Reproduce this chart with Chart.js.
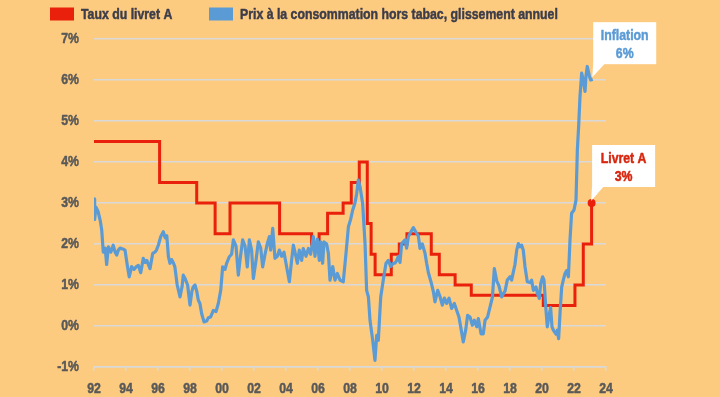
<!DOCTYPE html>
<html>
<head>
<meta charset="utf-8">
<script src="https://cdn.jsdelivr.net/npm/chart.js@4/dist/chart.umd.min.js"></script>
<style>
  html, body { margin: 0; padding: 0; background: #fdcb7f; }
  #wrap { width: 720px; height: 397px; position: relative; }
  canvas { display: block; }
</style>
</head>
<body>
<div id="wrap"><canvas id="c" width="720" height="397"></canvas></div>
<script>
// ---- Data ----
const livretLabel = 'Taux du livret A';
const cpiLabel = 'Prix à la consommation hors tabac, glissement annuel';

const livretDates = [1992.0, 1996.1, 1998.42, 1999.57, 2000.5, 2003.6, 2005.6, 2006.07, 2006.6, 2007.57, 2008.08, 2008.58, 2009.08, 2009.32, 2009.57, 2010.58, 2011.08, 2011.56, 2013.08, 2013.58, 2014.57, 2015.58, 2020.08, 2022.06, 2022.58, 2023.1];
const livretRates = [4.5, 3.5, 3.0, 2.25, 3.0, 2.25, 2.0, 2.25, 2.75, 3.0, 3.5, 4.0, 2.5, 1.75, 1.25, 1.75, 2.0, 2.25, 1.75, 1.25, 1.0, 0.75, 0.5, 1.0, 2.0, 3.0];

const cpiDates = [
 1992.00,1992.04,1992.12,1992.25,1992.40,1992.48,1992.58,1992.70,1992.79,1992.90,
 1993.05,1993.20,1993.32,1993.42,1993.52,1993.63,1993.80,1993.94,1994.08,1994.20,
 1994.35,1994.50,1994.65,1994.77,1994.92,1995.08,1995.20,1995.30,1995.50,1995.67,
 1995.80,1995.90,1996.02,1996.17,1996.33,1996.45,1996.55,1996.65,1996.75,1996.85,
 1996.95,1997.05,1997.20,1997.375,1997.50,1997.58,1997.70,1997.85,1998.00,1998.12,
 1998.20,1998.31,1998.42,1998.52,1998.62,1998.73,1998.875,1999.04,1999.15,1999.29,
 1999.46,1999.625,1999.77,1999.92,2000.04,2000.19,2000.29,2000.46,2000.60,2000.71,
 2000.875,2001.02,2001.125,2001.29,2001.44,2001.58,2001.71,2001.85,2001.96,2002.125,
 2002.27,2002.42,2002.54,2002.69,2002.83,2002.96,2003.04,2003.17,2003.31,2003.46,
 2003.58,2003.73,2003.875,2004.04,2004.21,2004.35,2004.46,2004.56,2004.71,2004.83,
 2004.98,2005.08,2005.25,2005.40,2005.54,2005.71,2005.81,2005.96,2006.08,2006.17,
 2006.29,2006.375,2006.54,2006.65,2006.75,2006.92,2007.06,2007.21,2007.375,2007.58,
 2007.75,2007.90,2008.04,2008.17,2008.31,2008.42,2008.52,2008.625,2008.79,2008.94,
 2009.04,2009.15,2009.25,2009.42,2009.56,2009.67,2009.77,2009.92,2010.08,2010.25,
 2010.40,2010.54,2010.71,2010.81,2010.92,2011.02,2011.125,2011.23,2011.44,2011.54,
 2011.65,2011.81,2011.96,2012.10,2012.27,2012.375,2012.52,2012.69,2012.79,2012.90,
 2013.06,2013.21,2013.31,2013.48,2013.625,2013.77,2013.90,2014.04,2014.19,2014.35,
 2014.52,2014.67,2014.81,2014.94,2015.08,2015.23,2015.35,2015.50,2015.65,2015.77,
 2015.92,2016.02,2016.19,2016.33,2016.44,2016.60,2016.75,2016.90,2017.02,2017.17,
 2017.31,2017.48,2017.60,2017.69,2017.83,2018.00,2018.10,2018.21,2018.31,2018.42,
 2018.52,2018.625,2018.73,2018.83,2018.94,2019.08,2019.25,2019.35,2019.46,2019.625,
 2019.71,2019.83,2019.92,2020.04,2020.125,2020.25,2020.33,2020.46,2020.54,2020.625,
 2020.71,2020.875,2020.96,2021.04,2021.125,2021.23,2021.33,2021.44,2021.54,2021.65,
 2021.75,2021.85,2022.00,2022.125,2022.21,2022.29,2022.375,2022.48,2022.58,2022.69,
 2022.75,2022.83,2022.96,2023.04,2023.17];
const cpiValues = [
 3.10,2.60,2.90,2.80,2.55,2.35,1.80,1.90,1.50,1.93,
 1.80,1.97,1.80,1.73,1.85,1.90,1.88,1.85,1.48,1.20,
 1.45,1.38,1.45,1.48,1.30,1.65,1.55,1.60,1.40,1.77,
 1.80,1.85,1.97,2.18,2.30,2.15,2.20,1.69,1.53,1.62,
 1.55,1.45,1.00,0.71,0.95,1.24,1.15,1.00,0.51,0.85,
 0.95,1.00,0.85,0.63,0.55,0.30,0.10,0.12,0.20,0.22,
 0.38,0.35,0.55,0.87,1.44,1.38,1.53,1.69,1.75,2.10,
 1.95,1.24,1.60,2.10,1.95,1.44,2.10,1.85,1.16,1.60,
 2.05,1.90,1.44,1.75,2.01,2.18,1.85,2.38,1.65,1.70,
 1.85,1.70,1.80,1.44,1.08,1.60,1.97,1.80,1.53,1.85,
 1.60,1.89,1.70,1.89,1.75,2.18,1.70,2.12,1.60,2.05,
 1.53,2.05,2.00,1.77,1.12,1.45,1.12,1.28,1.12,1.08,
 1.77,2.42,2.60,2.83,3.00,3.24,3.56,3.40,2.99,2.01,
 0.87,0.71,0.14,-0.35,-0.84,-0.23,-0.35,0.71,1.12,1.53,
 1.60,1.45,1.53,1.53,1.60,1.70,1.55,2.01,2.10,1.90,
 2.18,2.30,2.40,2.30,2.20,1.89,2.00,1.77,1.53,1.30,
 1.08,0.84,0.59,0.87,0.72,0.51,0.68,0.55,0.68,0.43,
 0.55,0.38,0.22,-0.07,-0.39,-0.10,0.26,0.22,0.02,0.14,
 -0.02,0.18,-0.19,-0.19,0.14,0.22,0.46,0.70,1.40,1.10,
 0.98,0.71,0.80,0.85,1.12,1.20,1.12,1.32,1.50,1.85,
 2.01,1.93,1.97,1.85,1.44,1.08,1.06,1.12,0.87,0.95,
 0.80,0.67,1.04,1.20,1.12,0.38,-0.02,0.30,0.45,-0.02,
 -0.10,-0.20,-0.10,-0.31,0.30,0.95,1.12,1.28,1.35,1.20,
 2.10,2.75,2.83,3.07,4.30,4.87,5.60,6.17,6.00,5.72,
 6.10,6.33,6.10,6.00,6.02];

const xTickLabels = ['92','94','96','98','00','02','04','06','08','10','12','14','16','18','20','22','24'];
const yTickLabels = ['-1%','0%','1%','2%','3%','4%','5%','6%','7%'];

const calloutInflation = ['Inflation', '6%'];
const calloutLivret = ['Livret A', '3%'];

// ---- Styles ----
const FONT = "'Liberation Sans', Arial, sans-serif";
const SQUEEZE = 0.82;
const RED = '#e8200c';
const BLUE = '#5b9bd5';
const GRID = '#d9d9d9';
const TICK_COLOR = '#595959';
const LEGEND_COLOR = '#3d3d4a';

const cpiPoints = cpiDates.map((d, i) => ({ x: d, y: cpiValues[i] }));
const livretPoints = livretDates.map((d, i) => ({ x: d, y: livretRates[i] }));

// draw text in a condensed heavy style (horizontal squeeze + light stroke)
function condText(ctx, text, x, y, align, size, color) {
  ctx.save();
  ctx.font = 'bold ' + size + 'px ' + FONT;
  ctx.fillStyle = color;
  ctx.strokeStyle = color;
  ctx.lineWidth = 0.5;
  ctx.lineJoin = 'round';
  ctx.textAlign = align;
  ctx.textBaseline = 'middle';
  ctx.translate(x, y);
  ctx.scale(SQUEEZE, 1);
  ctx.fillText(text, 0, 0);
  ctx.strokeText(text, 0, 0);
  ctx.restore();
}

const overlay = {
  id: 'overlay',
  afterDraw(chart) {
    const ctx = chart.ctx;
    const xs = chart.scales.x, ys = chart.scales.y;

    // Tick labels
    xs.ticks.forEach((t, i) => {
      condText(ctx, xTickLabels[i], xs.getPixelForValue(t.value), 388.5, 'center', 15, TICK_COLOR);
    });
    ys.ticks.forEach((t, i) => {
      condText(ctx, yTickLabels[i], 79, ys.getPixelForValue(t.value), 'right', 15, TICK_COLOR);
    });

    // Legend
    const items = [
      { label: chart.data.datasets[1].label, color: RED, x: 50 },
      { label: chart.data.datasets[0].label, color: BLUE, x: 209 }
    ];
    items.forEach(it => {
      ctx.fillStyle = it.color;
      ctx.fillRect(it.x, 7.5, 24, 13);
      condText(ctx, it.label, it.x + 31, 14.5, 'left', 15, LEGEND_COLOR);
    });

    // Callouts
    function callout(lines, px, py, gap, color) {
      const w = 63, h = 42;
      const left = px + 0.5;
      const bottom = py - gap;
      const top = bottom - h;
      ctx.save();
      ctx.fillStyle = '#ffffff';
      ctx.fillRect(left, top, w, h);
      ctx.beginPath();
      ctx.moveTo(left, bottom - 1);
      ctx.lineTo(left + 12, bottom - 1);
      ctx.lineTo(left - 1, bottom + gap - 2);
      ctx.closePath();
      ctx.fill();
      ctx.restore();
      condText(ctx, lines[0], left + w / 2, top + 13.5, 'center', 15, color);
      condText(ctx, lines[1], left + w / 2, top + 31.5, 'center', 15, color);
    }
    const lastCpi = cpiPoints[cpiPoints.length - 1];
    const lastLiv = livretPoints[livretPoints.length - 1];
    callout(calloutInflation, xs.getPixelForValue(lastCpi.x), ys.getPixelForValue(lastCpi.y), 15, '#5b9bd5');
    callout(calloutLivret, xs.getPixelForValue(lastLiv.x), ys.getPixelForValue(lastLiv.y), 16, '#d8260f');
  }
};

new Chart(document.getElementById('c'), {
  type: 'line',
  data: {
    datasets: [
      {
        label: cpiLabel,
        data: cpiPoints,
        borderColor: BLUE,
        backgroundColor: BLUE,
        borderWidth: 3.2,
        pointRadius: 0,
        tension: 0,
        borderJoinStyle: 'round'
      },
      {
        label: livretLabel,
        data: livretPoints,
        borderColor: RED,
        backgroundColor: RED,
        borderWidth: 3,
        stepped: true,
        pointRadius: livretPoints.map((p, i) => i === livretPoints.length - 1 ? 4 : 0),
        pointBackgroundColor: RED,
        pointBorderWidth: 0
      }
    ]
  },
  options: {
    responsive: false,
    animation: false,
    devicePixelRatio: 1,
    layout: { padding: { left: 0, right: 114, top: 39, bottom: 0 } },
    plugins: { legend: { display: false }, tooltip: { enabled: false } },
    scales: {
      x: {
        type: 'linear',
        min: 1992,
        max: 2024,
        grid: { drawOnChartArea: false, drawTicks: true, tickLength: 4, color: GRID, lineWidth: 1.5 },
        border: { display: true, color: GRID, width: 1.5 },
        ticks: { stepSize: 2, autoSkip: false, maxRotation: 0, display: false },
        afterFit: s => { s.height = 30; }
      },
      y: {
        min: -1,
        max: 7,
        grid: { drawTicks: false, color: GRID, lineWidth: 1.5 },
        border: { display: false },
        ticks: { stepSize: 1, display: false },
        afterFit: s => { s.width = 94; }
      }
    }
  },
  plugins: [overlay]
});
</script>
</body>
</html>
